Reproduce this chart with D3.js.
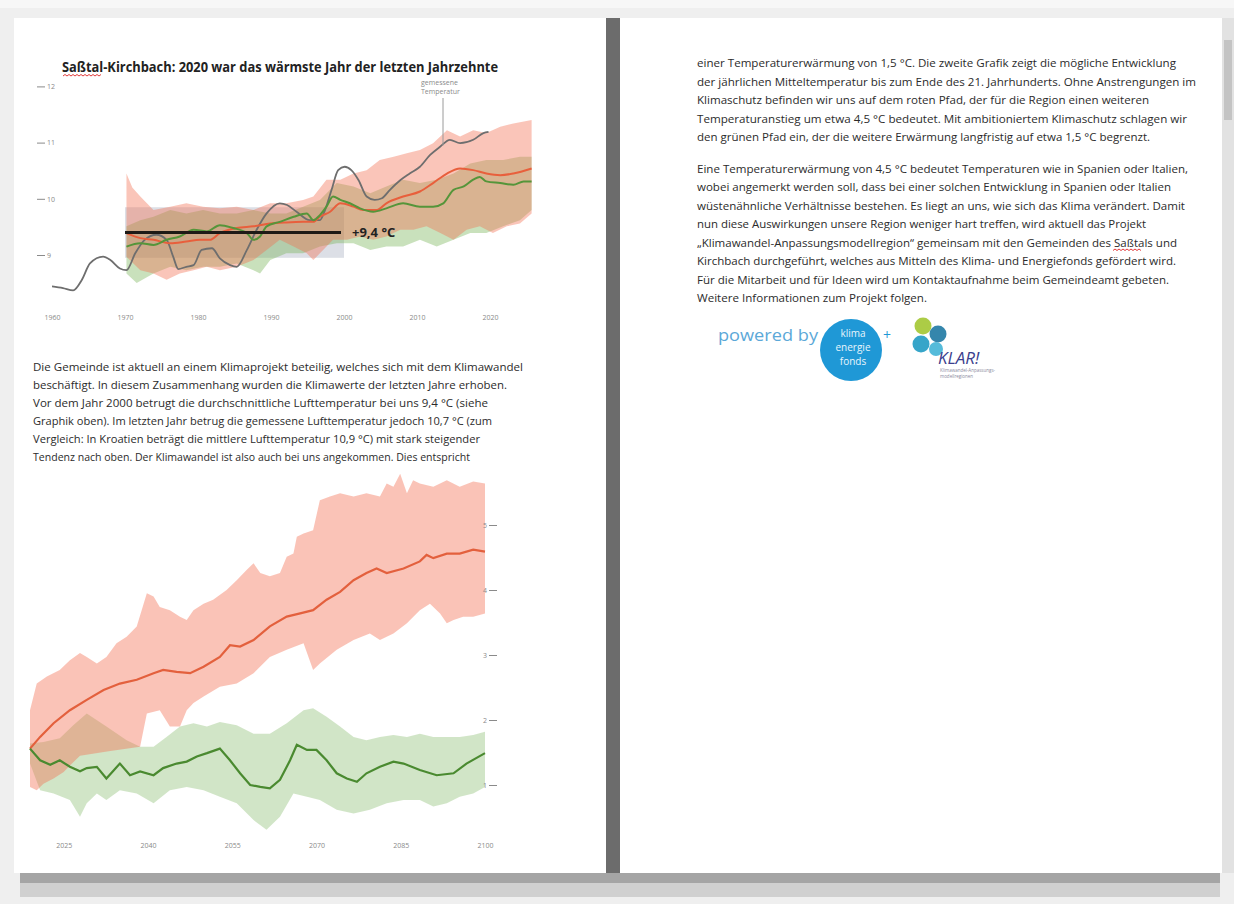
<!DOCTYPE html>
<html><head><meta charset="utf-8">
<script src="https://cdn.jsdelivr.net/npm/d3@7"></script>
<style>html,body{margin:0;padding:0;background:#efefef;} svg{display:block;}</style>
</head><body>
<svg id="c" width="1234" height="904"></svg>
<script>
// ---------- DATA: top chart (°C, years) ----------
const topXTicks = [1960, 1970, 1980, 1990, 2000, 2010, 2020];
const topYTicks = [9, 10, 11, 12];
const measured = [[1960,8.44],[1961.5,8.41],[1962.9,8.37],[1964.1,8.56],[1965.2,8.85],[1967,8.97],[1968,8.91],[1969.3,8.76],[1970.2,8.73],[1971.4,9.03],[1972.7,9.27],[1974.3,9.36],[1975.7,9.27],[1976.6,8.97],[1977.3,8.75],[1978.4,8.79],[1979.4,8.82],[1980.5,9.09],[1981.9,9.12],[1983,8.94],[1984.4,8.82],[1985.3,8.79],[1986.7,9.09],[1988,9.44],[1989.4,9.74],[1991.2,9.92],[1992.2,9.89],[1993.5,9.77],[1995.3,9.62],[1996.7,9.62],[1997.4,9.80],[1998.3,10.16],[1999.2,10.51],[2000.1,10.57],[2001,10.51],[2002,10.33],[2003.1,10.04],[2004.2,9.98],[2005.2,10.01],[2006.3,10.16],[2007.7,10.33],[2009,10.45],[2010.4,10.57],[2011.8,10.78],[2013.2,10.93],[2014.5,11.05],[2015.9,10.99],[2017.7,11.05],[2019.1,11.17],[2019.8,11.19]];
const topRedMid = [[1970.2,9.39],[1972.1,9.30],[1973.9,9.27],[1976.2,9.21],[1978.4,9.24],[1980.3,9.27],[1981.6,9.27],[1983.0,9.39],[1985.3,9.48],[1987.6,9.51],[1989.9,9.56],[1992.1,9.58],[1994.4,9.59],[1995.8,9.59],[1996.7,9.68],[1998.1,9.77],[1999.5,9.92],[2001.3,9.86],[2002.6,9.80],[2004.5,9.80],[2005.8,9.92],[2008.1,10.04],[2010.4,10.13],[2012.2,10.28],[2014.1,10.45],[2015.9,10.54],[2017.7,10.51],[2019.5,10.45],[2021.4,10.42],[2023.2,10.45],[2025.7,10.54]];
const topRedHigh = [[1970.2,10.45],[1971.0,10.2],[1972.1,10.04],[1973.9,9.80],[1976.2,9.86],[1978.4,9.92],[1980.7,9.86],[1983.0,9.83],[1985.3,9.86],[1987.6,9.80],[1989.9,9.92],[1992.1,9.92],[1994.4,9.98],[1995.8,10.04],[1997.6,10.34],[1999.5,10.34],[2001.3,10.45],[2003.1,10.51],[2004.9,10.69],[2006.8,10.75],[2008.6,10.81],[2010.4,10.87],[2012.2,10.99],[2014.1,11.22],[2015.9,11.11],[2017.7,11.22],[2019.5,11.17],[2021.4,11.28],[2023.2,11.34],[2025.7,11.40]];
const topRedLow = [[1970.2,8.97],[1972.1,8.73],[1973.9,8.67],[1975.7,8.56],[1977.5,8.67],[1979.4,8.73],[1981.2,8.79],[1983.0,8.73],[1985.3,8.79],[1987.6,8.91],[1989.4,9.09],[1991.2,9.27],[1993.1,9.15],[1994.9,9.03],[1995.8,8.91],[1996.7,9.03],[1998.5,9.27],[2000.4,9.27],[2002.2,9.33],[2004.0,9.27],[2005.8,9.33],[2007.7,9.45],[2009.5,9.45],[2011.3,9.51],[2013.2,9.39],[2015.0,9.27],[2016.8,9.45],[2018.6,9.51],[2020.4,9.39],[2022.3,9.51],[2024.1,9.56],[2025.7,9.74]];
const topGreenMid = [[1970.2,9.15],[1972.1,9.21],[1973.9,9.18],[1975.7,9.27],[1977.5,9.33],[1979.4,9.45],[1981.2,9.42],[1983.0,9.53],[1984.8,9.48],[1986.7,9.39],[1987.6,9.27],[1988.5,9.33],[1989.4,9.51],[1991.2,9.59],[1993.1,9.68],[1994.9,9.74],[1995.8,9.62],[1996.7,9.71],[1997.6,9.86],[1998.5,10.04],[1999.5,9.98],[2000.8,9.92],[2002.2,9.83],[2004.0,9.77],[2005.8,9.83],[2008.1,9.92],[2010.4,9.86],[2012.2,9.86],[2013.6,9.92],[2015.0,10.16],[2016.4,10.22],[2017.7,10.34],[2018.6,10.39],[2019.5,10.31],[2021.4,10.28],[2023.2,10.25],[2024.6,10.31],[2025.7,10.31]];
const topGreenHigh = [[1970.2,9.51],[1972.1,9.62],[1973.9,9.68],[1976.2,9.80],[1978.4,9.74],[1980.7,9.80],[1983.0,9.74],[1985.3,9.74],[1987.6,9.80],[1989.9,9.74],[1992.1,9.74],[1994.4,9.86],[1996.7,9.98],[1999.0,10.28],[2001.3,10.22],[2003.6,10.10],[2005.8,10.22],[2008.1,10.34],[2010.4,10.28],[2012.7,10.34],[2015.0,10.45],[2017.3,10.63],[2019.5,10.69],[2021.8,10.69],[2024.1,10.75],[2025.7,10.75]];
const topGreenLow = [[1970.2,8.67],[1971.6,8.50],[1973.9,8.67],[1976.2,8.79],[1978.4,8.73],[1980.7,8.79],[1983.0,8.79],[1985.3,8.85],[1987.6,8.73],[1988.5,8.67],[1989.9,8.91],[1992.1,9.03],[1994.4,9.03],[1996.7,9.15],[1999.0,9.21],[2001.3,9.21],[2003.6,9.09],[2005.8,9.15],[2008.1,9.15],[2010.4,9.27],[2012.7,9.15],[2015.0,9.27],[2017.3,9.39],[2019.5,9.39],[2021.8,9.51],[2024.1,9.62],[2025.7,9.80]];
const refPeriod = [1970, 2000];
const refMean = 9.4;
const refRange = [8.95, 9.85];
const refLabel = "+9,4 °C";

// ---------- DATA: bottom chart (warming °C, years) ----------
const botXTicks = [2025, 2040, 2055, 2070, 2085, 2100];
const botYTicks = [1, 2, 3, 4, 5];
const redMid = [[2019,1.56],[2020.8,1.74],[2023.2,1.95],[2026.1,2.15],[2029.1,2.31],[2032.1,2.46],[2035.0,2.56],[2038.0,2.62],[2041.0,2.72],[2042.7,2.77],[2045.1,2.74],[2047.5,2.72],[2049.9,2.82],[2052.8,2.97],[2054.6,3.15],[2056.4,3.13],[2058.8,3.23],[2061.7,3.44],[2064.7,3.59],[2067.1,3.64],[2069.4,3.69],[2071.8,3.85],[2074.2,3.97],[2076.6,4.15],[2078.9,4.26],[2080.7,4.33],[2082.5,4.26],[2085.5,4.33],[2088.4,4.44],[2089.6,4.54],[2090.8,4.49],[2093.2,4.56],[2095.5,4.56],[2097.9,4.62],[2100,4.59]];
const redHigh = [[2019,2.15],[2020.2,2.56],[2022.0,2.67],[2024.3,2.77],[2026.1,2.92],[2027.9,3.03],[2029.1,2.97],[2030.9,2.87],[2032.6,2.97],[2034.4,3.18],[2036.2,3.28],[2038.0,3.44],[2039.8,3.95],[2041.0,3.90],[2042.1,3.74],[2043.9,3.69],[2045.7,3.59],[2046.9,3.54],[2048.1,3.69],[2049.9,3.79],[2051.6,3.85],[2054.0,4.0],[2055.8,4.15],[2057.6,4.31],[2058.8,4.41],[2060.0,4.26],[2061.7,4.21],[2063.5,4.26],[2064.7,4.51],[2065.9,4.56],[2066.5,4.82],[2067.7,4.87],[2069.4,4.92],[2070.6,5.38],[2072.4,5.44],[2074.2,5.49],[2076.6,5.44],[2078.9,5.49],[2081.3,5.44],[2082.5,5.64],[2083.7,5.59],[2084.9,5.79],[2086.1,5.49],[2087.2,5.69],[2088.4,5.64],[2090.8,5.59],[2093.2,5.69],[2095.5,5.59],[2097.9,5.67],[2100,5.64]];
const redLow = [[2019,0.97],[2020.2,0.92],[2021.4,1.02],[2023.2,1.10],[2025.0,1.20],[2026.1,1.30],[2027.9,1.45],[2033.0,1.52],[2038.6,1.59],[2039.8,2.10],[2042.1,2.15],[2043.9,1.90],[2045.7,1.90],[2046.9,2.15],[2048.1,2.26],[2049.9,2.36],[2052.8,2.51],[2055.8,2.56],[2058.8,2.72],[2061.7,2.97],[2064.7,3.08],[2067.7,3.18],[2069.4,2.77],[2070.6,2.87],[2073.6,3.08],[2076.6,3.23],[2079.5,3.33],[2081.3,3.23],[2083.7,3.33],[2086.1,3.49],[2088.4,3.69],[2090.2,3.79],[2092.0,3.64],[2093.2,3.49],[2094.4,3.54],[2096.1,3.59],[2097.9,3.59],[2100,3.64]];
const greenMid = [[2019,1.56],[2020.8,1.38],[2022.6,1.31],[2024.3,1.38],[2026.1,1.28],[2027.9,1.21],[2029.1,1.26],[2030.9,1.28],[2032.6,1.10],[2035.0,1.33],[2036.8,1.15],[2038.6,1.21],[2041.0,1.15],[2042.7,1.26],[2045.1,1.33],[2046.9,1.36],[2048.7,1.44],[2050.5,1.49],[2052.8,1.56],[2054.6,1.38],[2056.4,1.18],[2058.2,1.0],[2060.0,0.97],[2061.7,0.95],[2063.5,1.08],[2065.3,1.38],[2066.5,1.62],[2068.3,1.54],[2070.0,1.54],[2071.8,1.38],[2073.6,1.18],[2075.4,1.10],[2077.2,1.05],[2078.9,1.18],[2081.3,1.28],[2083.7,1.36],[2085.5,1.33],[2088.4,1.23],[2091.4,1.15],[2094.4,1.18],[2096.7,1.33],[2100,1.49]];
const greenHigh = [[2019,1.64],[2021.4,1.66],[2024.3,1.72],[2026.7,1.92],[2029.1,2.10],[2032.6,1.90],[2036.2,1.69],[2038.6,1.59],[2041.0,1.59],[2043.3,1.74],[2045.7,1.90],[2048.1,1.95],[2050.5,1.90],[2052.8,1.97],[2055.8,1.92],[2058.8,1.79],[2061.7,1.79],[2064.7,1.95],[2067.7,2.15],[2069.4,2.18],[2071.8,2.05],[2074.2,1.90],[2076.6,1.74],[2078.9,1.69],[2081.3,1.74],[2083.7,1.77],[2086.1,1.74],[2088.4,1.79],[2090.8,1.74],[2093.2,1.74],[2095.5,1.74],[2097.9,1.77],[2100,1.82]];
const greenLow = [[2019,1.33],[2020.8,0.92],[2023.2,0.87],[2026.1,0.77],[2027.9,0.51],[2029.1,0.72],[2030.9,0.87],[2032.6,0.77],[2035.0,0.92],[2038.0,0.87],[2041.0,0.72],[2043.9,0.92],[2046.9,0.97],[2049.9,0.92],[2052.8,0.82],[2055.8,0.72],[2058.8,0.46],[2061.1,0.31],[2063.5,0.51],[2065.9,0.87],[2068.3,0.82],[2070.6,0.77],[2073.6,0.62],[2076.6,0.56],[2079.5,0.62],[2082.5,0.72],[2085.5,0.77],[2088.4,0.77],[2090.8,0.67],[2093.2,0.72],[2095.5,0.82],[2097.9,0.87],[2100,0.97]];

// ---------- TEXT ----------
const title = "Saßtal-Kirchbach: 2020 war das wärmste Jahr der letzten Jahrzehnte";
const annot = ["gemessene", "Temperatur"];
const leftLines = [
 "Die Gemeinde ist aktuell an einem Klimaprojekt beteilig, welches sich mit dem Klimawandel",
 "beschäftigt. In diesem Zusammenhang wurden die Klimawerte der letzten Jahre erhoben.",
 "Vor dem Jahr 2000 betrugt die durchschnittliche Lufttemperatur bei uns 9,4 °C (siehe",
 "Graphik oben). Im letzten Jahr betrug die gemessene Lufttemperatur jedoch 10,7 °C (zum",
 "Vergleich: In Kroatien beträgt die mittlere Lufttemperatur 10,9 °C) mit stark steigender",
 "Tendenz nach oben. Der Klimawandel ist also auch bei uns angekommen. Dies entspricht"];
const leftLens = [490, 474, 455, 459, 447, 437];
const rightP1 = [
 "einer Temperaturerwärmung von 1,5 °C. Die zweite Grafik zeigt die mögliche Entwicklung",
 "der jährlichen Mitteltemperatur bis zum Ende des 21. Jahrhunderts. Ohne Anstrengungen im",
 "Klimaschutz befinden wir uns auf dem roten Pfad, der für die Region einen weiteren",
 "Temperaturanstieg um etwa 4,5 °C bedeutet. Mit ambitioniertem Klimaschutz schlagen wir",
 "den grünen Pfad ein, der die weitere Erwärmung langfristig auf etwa 1,5 °C begrenzt."];
const rightP1Lens = [479, 499, 452, 490, 453];
const rightP2 = [
 "Eine Temperaturerwärmung von 4,5 °C bedeutet Temperaturen wie in Spanien oder Italien,",
 "wobei angemerkt werden soll, dass bei einer solchen Entwicklung in Spanien oder Italien",
 "wüstenähnliche Verhältnisse bestehen. Es liegt an uns, wie sich das Klima verändert. Damit",
 "nun diese Auswirkungen unsere Region weniger hart treffen, wird aktuell das Projekt",
 "„Klimawandel-Anpassungsmodellregion“ gemeinsam mit den Gemeinden des Saßtals und",
 "Kirchbach durchgeführt, welches aus Mitteln des Klima- und Energiefonds gefördert wird.",
 "Für die Mitarbeit und für Ideen wird um Kontaktaufnahme beim Gemeindeamt gebeten.",
 "Weitere Informationen zum Projekt folgen."];
const rightP2Lens = [491, 474, 488, 449, 480, 479, 472, 230];

// ---------- DRAW ----------
const svg = d3.select("#c");
const FONT = "'Open Sans', 'Liberation Sans', sans-serif";

// page chrome
svg.append("rect").attr("width",1234).attr("height",904).attr("fill","#efefef");
svg.append("rect").attr("x",0).attr("y",0).attr("width",1234).attr("height",8).attr("fill","#f7f7f7");
svg.append("rect").attr("x",14).attr("y",18).attr("width",592).attr("height",855).attr("fill","#fff");
svg.append("rect").attr("x",620).attr("y",18).attr("width",602).attr("height",855).attr("fill","#fff");
svg.append("rect").attr("x",606).attr("y",18).attr("width",14).attr("height",855).attr("fill","#6c6c6c");
svg.append("rect").attr("x",1222).attr("y",18).attr("width",12).attr("height",855).attr("fill","#e2e2e2");
svg.append("rect").attr("x",1224).attr("y",40).attr("width",8).attr("height",80).attr("fill","#c4c4c4");
svg.append("rect").attr("x",20).attr("y",873).attr("width",1200).attr("height",10).attr("fill","#a5a5a5");
svg.append("rect").attr("x",20).attr("y",883).attr("width",1200).attr("height",14).attr("fill","#d0d0d0");

// ---------- TOP CHART ----------
const xT = d3.scaleLinear().domain([1960, 2020]).range([52, 490]);
const yT = d3.scaleLinear().domain([9, 12]).range([255, 86.4]);
const lineT = d3.line().x(d=>xT(d[0])).y(d=>yT(d[1])).curve(d3.curveMonotoneX);
const bandT = (hi, lo) => d3.line().x(d=>xT(d[0])).y(d=>yT(d[1])).curve(d3.curveLinearClosed)(hi.concat(lo.slice().reverse()));
const gT = svg.append("g");

gT.append("rect").attr("x", xT(refPeriod[0])).attr("width", xT(refPeriod[1]) - xT(refPeriod[0]))
  .attr("y", yT(refRange[1])).attr("height", yT(refRange[0]) - yT(refRange[1])).attr("fill", "#dcdfe6");
gT.append("path").attr("d", bandT(topGreenHigh, topGreenLow)).attr("fill", "rgba(112,176,80,0.38)");
gT.append("path").attr("d", bandT(topRedHigh, topRedLow)).attr("fill", "rgba(242,110,80,0.40)");
gT.append("path").attr("d", lineT(measured)).attr("fill","none").attr("stroke","#6e6e6e").attr("stroke-width",1.8);
gT.append("path").attr("d", lineT(topRedMid)).attr("fill","none").attr("stroke","#e85f3c").attr("stroke-width",2);
gT.append("path").attr("d", lineT(topGreenMid)).attr("fill","none").attr("stroke","#55953a").attr("stroke-width",2);
gT.append("line").attr("x1", xT(refPeriod[0])).attr("x2", xT(refPeriod[1])-3)
  .attr("y1", yT(refMean)).attr("y2", yT(refMean)).attr("stroke","#1e1a16").attr("stroke-width",3);
gT.append("text").attr("x", xT(refPeriod[1]) + 8).attr("y", yT(refMean) + 4.5)
  .attr("font-family", FONT).attr("font-weight","bold").attr("font-size",13).attr("fill","#222").text(refLabel);

// annotation
gT.append("line").attr("x1",443).attr("x2",443).attr("y1",98).attr("y2",yT(10.95)).attr("stroke","#9a9a9a").attr("stroke-width",1);
annot.forEach((t,i)=> gT.append("text").attr("x",421).attr("y",85+i*8.5).attr("font-family",FONT)
  .attr("font-size",7).attr("fill","#8a8a8a").text(t));

// axes
const axT = gT.append("g").attr("transform","translate(37,0)")
  .call(d3.axisRight(yT).tickValues(topYTicks).tickSize(8).tickPadding(2).tickFormat(d3.format("d")));
const axTx = gT.append("g").attr("transform","translate(0,312)")
  .call(d3.axisBottom(xT).tickValues(topXTicks).tickSize(0).tickPadding(3).tickFormat(d3.format("d")));
[axT, axTx].forEach(a=>{ a.select(".domain").remove();
  a.selectAll("text").attr("font-family",FONT).attr("font-size",7).attr("fill","#8a8a8a");
  a.selectAll("line").attr("stroke","#8a8a8a"); });

// title
svg.append("text").attr("x",62).attr("y",72).attr("font-family",FONT).attr("font-weight","bold")
  .attr("font-size",14).attr("fill","#222").attr("textLength",436).attr("lengthAdjust","spacingAndGlyphs").text(title);
function squiggle(x0, x1, y){ let d = `M${x0},${y}`; let up = true;
  for (let x = x0 + 2; x <= x1; x += 2) { d += `L${x},${up ? y-1.5 : y}`; up = !up; } return d; }
svg.append("path").attr("d", squiggle(63, 101, 76)).attr("fill","none").attr("stroke","#e23a3a").attr("stroke-width",1);

// ---------- LEFT TEXT ----------
leftLines.forEach((t,i)=> svg.append("text").attr("x",33).attr("y",370.5+i*18).attr("font-family",FONT)
  .attr("font-size",10).attr("fill","#2b2b2b").attr("textLength",leftLens[i]).attr("lengthAdjust","spacingAndGlyphs").text(t));

// ---------- BOTTOM CHART ----------
const xB = d3.scaleLinear().domain([2019, 2100]).range([30, 485]);
const yB = d3.scaleLinear().domain([1, 5]).range([785, 525]);
const lineB = d3.line().x(d=>xB(d[0])).y(d=>yB(d[1])).curve(d3.curveLinear);
const bandB = (hi, lo) => d3.line().x(d=>xB(d[0])).y(d=>yB(d[1])).curve(d3.curveLinearClosed)(hi.concat(lo.slice().reverse()));
const gB = svg.append("g");
gB.append("path").attr("d", bandB(greenHigh, greenLow)).attr("fill","rgba(120,180,90,0.34)");
gB.append("path").attr("d", bandB(redHigh, redLow)).attr("fill","rgba(242,112,84,0.42)");
gB.append("path").attr("d", lineB(redMid)).attr("fill","none").attr("stroke","#e3603d").attr("stroke-width",2.2);
gB.append("path").attr("d", lineB(greenMid)).attr("fill","none").attr("stroke","#4a8a30").attr("stroke-width",2.2);
const axB = gB.append("g").attr("transform","translate(497,0)")
  .call(d3.axisLeft(yB).tickValues(botYTicks).tickSize(8).tickPadding(2).tickFormat(d3.format("d")));
const axBx = gB.append("g").attr("transform","translate(0,840)")
  .call(d3.axisBottom(xB).tickValues(botXTicks).tickSize(0).tickPadding(3).tickFormat(d3.format("d")));
[axB, axBx].forEach(a=>{ a.select(".domain").remove();
  a.selectAll("text").attr("font-family",FONT).attr("font-size",7).attr("fill","#8a8a8a");
  a.selectAll("line").attr("stroke","#8a8a8a"); });

// ---------- RIGHT TEXT ----------
rightP1.forEach((t,i)=> svg.append("text").attr("x",697).attr("y",67+i*18.5).attr("font-family",FONT)
  .attr("font-size",10).attr("fill","#2b2b2b").attr("textLength",rightP1Lens[i]).attr("lengthAdjust","spacingAndGlyphs").text(t));
rightP2.forEach((t,i)=> svg.append("text").attr("x",697).attr("y",172.5+i*18.5).attr("font-family",FONT)
  .attr("font-size",10).attr("fill","#2b2b2b").attr("textLength",rightP2Lens[i]).attr("lengthAdjust","spacingAndGlyphs").text(t));
svg.append("path").attr("d", squiggle(1113, 1141, 250.5)).attr("fill","none").attr("stroke","#e23a3a").attr("stroke-width",1);

// ---------- LOGOS ----------
const lg = svg.append("g");
lg.append("text").attr("x",718).attr("y",341).attr("font-family",FONT).attr("font-size",17)
  .attr("fill","#5ba8d8").attr("textLength",100).attr("lengthAdjust","spacingAndGlyphs").text("powered by");
lg.append("circle").attr("cx",851).attr("cy",350).attr("r",31).attr("fill","#1f98d6");
[["klima",337],["energie",351],["fonds",365]].forEach(([t,y])=> lg.append("text").attr("x",853).attr("y",y)
  .attr("text-anchor","middle").attr("font-family",FONT).attr("font-size",10).attr("fill","#e8f5fc").text(t));
lg.append("text").attr("x",883).attr("y",340).attr("font-family",FONT).attr("font-size",14).attr("fill","#1f98d6").text("+");
[[923,326,8.5,"#a8c93c"],[938,334,8.5,"#2a7fa8"],[921,344,8.5,"#2ba0c6"],[936,349,7,"#4cb7d8"]].forEach(([cx,cy,r,c])=>
  lg.append("circle").attr("cx",cx).attr("cy",cy).attr("r",r).attr("fill",c).attr("opacity",0.95));
lg.append("text").attr("x",938).attr("y",364).attr("font-family",FONT).attr("font-style","italic").attr("font-size",17)
  .attr("fill","#3c3f8e").text("KLAR!");
lg.append("text").attr("x",940).attr("y",372).attr("font-family",FONT).attr("font-size",4.5).attr("fill","#8a8aa0").text("Klimawandel-Anpassungs-");
lg.append("text").attr("x",940).attr("y",378).attr("font-family",FONT).attr("font-size",4.5).attr("fill","#8a8aa0").text("modellregionen");
</script></body></html>
